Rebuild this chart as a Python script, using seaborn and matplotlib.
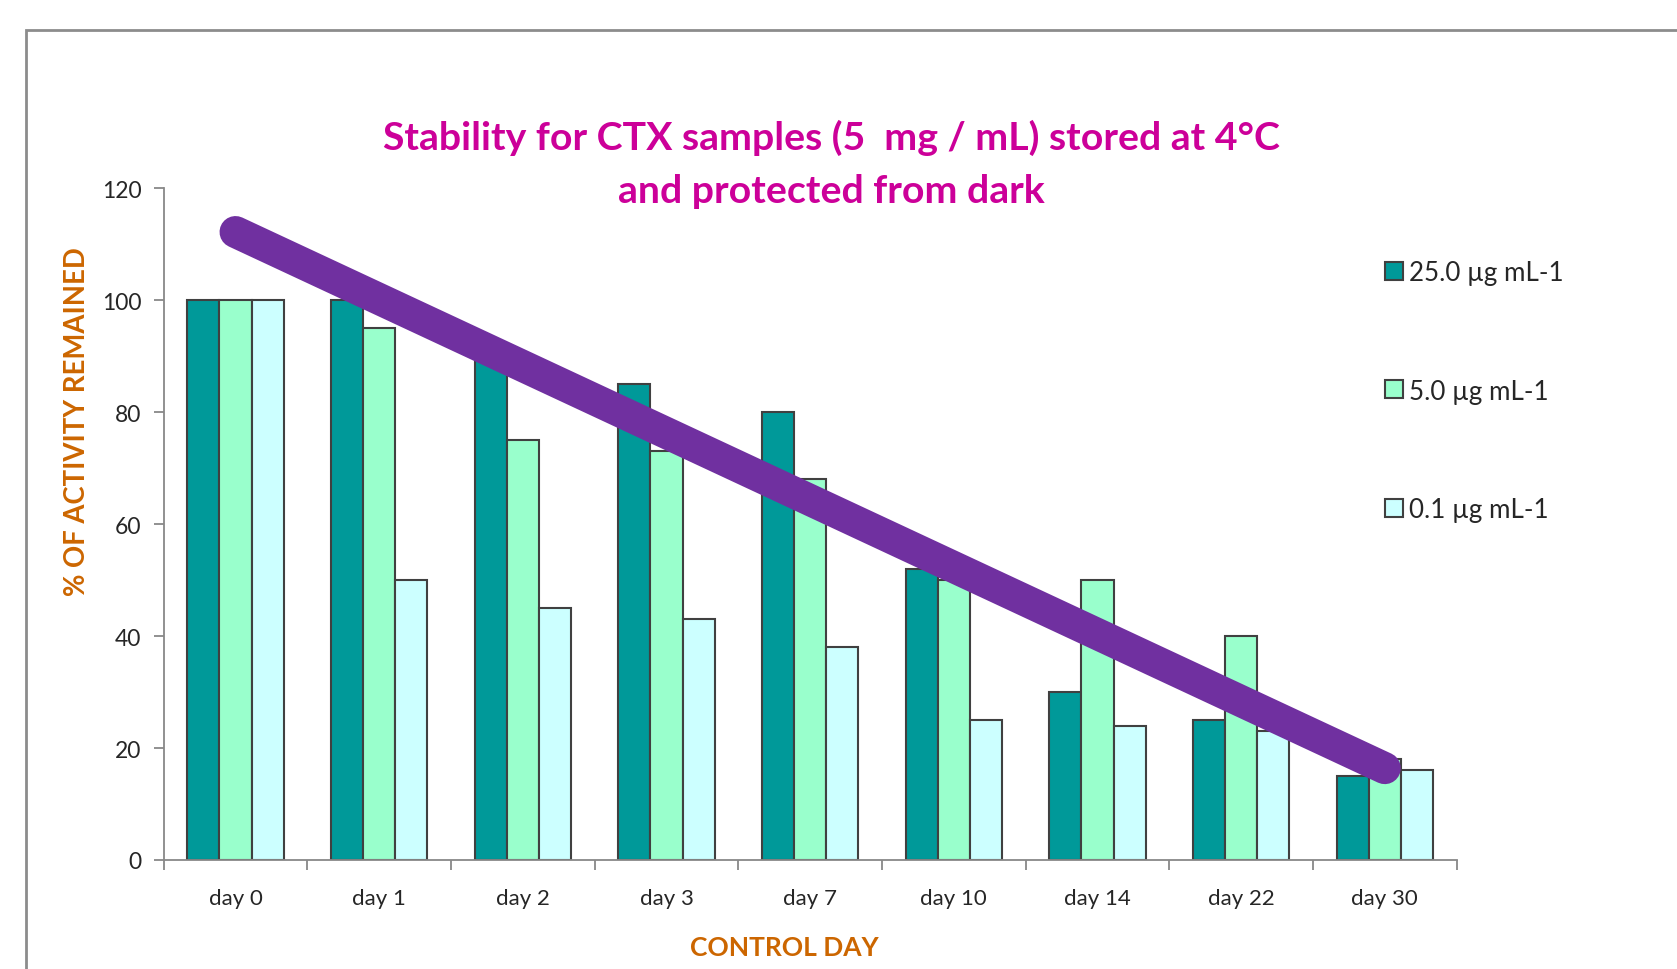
import numpy as np
import pandas as pd
import seaborn as sns
from matplotlib import pyplot as plt
from matplotlib.patches import Rectangle
from matplotlib.lines import Line2D

# data
days = ["day 0", "day 1", "day 2", "day 3", "day 7", "day 10", "day 14", "day 22", "day 30"]
conc_labels = ["25.0 µg mL-1", "5.0 µg mL-1", "0.1 µg mL-1"]
activity_25 = [100, 100, 90, 85, 80, 52, 30, 25, 15]
activity_5 = [100, 95, 75, 73, 68, 50, 50, 40, 18]
activity_01 = [100, 50, 45, 43, 38, 25, 24, 23, 16]
# thick hand-drawn trend line, from day 0 to day 30
trend_days = ["day 0", "day 30"]
trend_values = [112.2, 16.4]

bar_colors = ["#009999", "#99FFCC", "#CCFFFF"]
line_color = "#7030A0"

sns.set_style("white")
plt.rcParams['font.family'] = ['Lato', 'DejaVu Sans']

df = pd.DataFrame({
    "day": days * 3,
    "conc": [c for c in conc_labels for _ in days],
    "value": activity_25 + activity_5 + activity_01,
})

fig = plt.figure(figsize=(16.77, 9.70), dpi=100)
ax = fig.add_axes([0.0976, 0.1124, 0.771, 0.6924])

sns.barplot(data=df, x="day", y="value", hue="conc", order=days, hue_order=conc_labels,
            palette=bar_colors, width=0.67, saturation=1, edgecolor="#404040",
            linewidth=1.5, ax=ax, legend=False)

# trend line drawn on top of the bars
trend_x = [days.index(d) for d in trend_days]
ax.plot(trend_x, trend_values, color=line_color, linewidth=23,
        solid_capstyle="round", zorder=10, clip_on=False)

ax.set_xlim(-0.5, len(days) - 0.5)
ax.set_ylim(0, 120)
ax.set_yticks(np.arange(0, 121, 20))
ax.set_xlabel("")
ax.set_ylabel("")

# tick marks sit between the day groups
ax.set_xticks(np.arange(-0.5, len(days), 1.0), minor=True)
ax.tick_params(axis="x", which="major", length=0, pad=20, labelsize=16)
ax.tick_params(axis="x", which="minor", length=7, width=1.3, color="#888888", direction="out")
ax.tick_params(axis="y", length=7, width=1.3, color="#888888", direction="out", pad=9, labelsize=16.5)
ax.tick_params(axis="x", which="major", bottom=False)
ax.tick_params(axis="x", which="minor", bottom=True)
ax.tick_params(axis="y", left=True)

sns.despine(ax=ax)
for side in ["left", "bottom"]:
    ax.spines[side].set_color("#888888")
    ax.spines[side].set_linewidth(1.3)

handles = [Line2D([0], [0], marker="s", linestyle="", markersize=12.5,
                  markerfacecolor=c, markeredgecolor="#404040", markeredgewidth=1.5)
           for c in bar_colors]
fig.legend(handles, conc_labels, loc="upper left", bbox_to_anchor=(0.811, 0.755),
           frameon=False, fontsize=18.7, handlelength=0.8, handletextpad=0.2,
           labelspacing=3.6)

fig.text(0.496, 0.8305, "Stability for CTX samples (5  mg / mL) stored at 4°C\nand protected from dark",
         ha="center", va="center", fontsize=28.3, fontweight="bold", color="#CC0099",
         linespacing=1.62)
fig.text(0.046, 0.565, "% OF ACTIVITY REMAINED", rotation=90, ha="center", va="center",
         fontsize=19.8, fontweight="bold", color="#CC6600")
fig.text(0.4675, 0.0227, "CONTROL DAY", ha="center", va="center",
         fontsize=19, fontweight="bold", color="#CC6600")

# outer frame of the chart area
fig.add_artist(Rectangle((0.0153, -0.1), 1.2, 0.1 + 0.968, transform=fig.transFigure,
                         fill=False, edgecolor="#8c8c8c", linewidth=2))

fig.savefig("out.png", dpi=100)
